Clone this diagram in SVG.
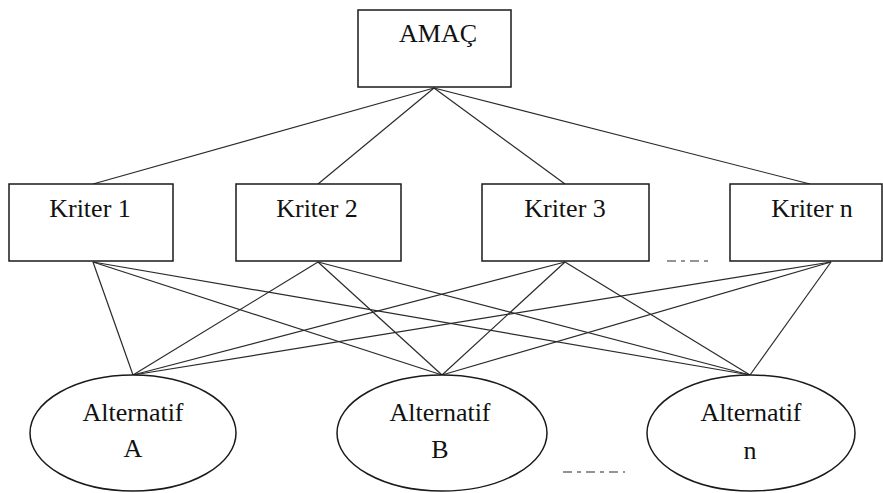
<svg xmlns="http://www.w3.org/2000/svg" width="883" height="493" viewBox="0 0 883 493">
<style>
.box{fill:#fff;stroke:#1a1a1a;stroke-width:1.5}
.ell{fill:#fff;stroke:#1a1a1a;stroke-width:1.5}
.t{font-family:"Liberation Serif","Times New Roman",serif;font-size:26px;fill:#111;text-anchor:middle}
.ln{stroke:#2a2a2a;stroke-width:1.2;fill:none}
.dash{stroke:#2a2a2a;stroke-width:1.2;stroke-dasharray:9,5,4,5}
</style>
<rect width="883" height="493" fill="#fff"/>
<g id="connectors">
<line class="ln" x1="434" y1="88" x2="93" y2="184"/>
<line class="ln" x1="434" y1="88" x2="318" y2="184"/>
<line class="ln" x1="434" y1="88" x2="565" y2="184"/>
<line class="ln" x1="434" y1="88" x2="810" y2="184"/>
<line class="ln" x1="93" y1="262" x2="133" y2="375"/>
<line class="ln" x1="93" y1="262" x2="442" y2="375"/>
<line class="ln" x1="93" y1="262" x2="750" y2="375"/>
<line class="ln" x1="318" y1="262" x2="133" y2="375"/>
<line class="ln" x1="318" y1="262" x2="442" y2="375"/>
<line class="ln" x1="318" y1="262" x2="750" y2="375"/>
<line class="ln" x1="565" y1="262" x2="133" y2="375"/>
<line class="ln" x1="565" y1="262" x2="442" y2="375"/>
<line class="ln" x1="565" y1="262" x2="750" y2="375"/>
<line class="ln" x1="831" y1="262" x2="133" y2="375"/>
<line class="ln" x1="831" y1="262" x2="442" y2="375"/>
<line class="ln" x1="831" y1="262" x2="750" y2="375"/>
</g>
<g id="amac">
<rect class="box" x="358" y="10" width="153" height="77"/>
<text class="t" x="438" y="42">AMAÇ</text>
</g>
<g id="kriter1">
<rect class="box" x="9" y="184" width="164" height="77"/>
<text class="t" x="90" y="217">Kriter 1</text>
</g>
<g id="kriter2">
<rect class="box" x="236" y="184" width="165" height="77"/>
<text class="t" x="317" y="217">Kriter 2</text>
</g>
<g id="kriter3">
<rect class="box" x="482" y="184" width="167" height="77"/>
<text class="t" x="565" y="217">Kriter 3</text>
</g>
<g id="kritern">
<rect class="box" x="730" y="184" width="152" height="77"/>
<text class="t" x="812" y="217">Kriter n</text>
</g>
<g id="altA">
<ellipse class="ell" cx="133" cy="433" rx="103" ry="58"/>
<text class="t" x="133" y="421">Alternatif</text>
<text class="t" x="133" y="457">A</text>
</g>
<g id="altB">
<ellipse class="ell" cx="442" cy="433" rx="105" ry="58"/>
<text class="t" x="440" y="421">Alternatif</text>
<text class="t" x="440" y="458">B</text>
</g>
<g id="altN">
<ellipse class="ell" cx="751" cy="433" rx="104" ry="58"/>
<text class="t" x="751" y="421">Alternatif</text>
<text class="t" x="750" y="459">n</text>
</g>
<g id="ellipsis">
<line class="dash" x1="667" y1="261" x2="708" y2="261"/>
<line class="dash" x1="563" y1="472" x2="625" y2="472"/>
</g>
</svg>
